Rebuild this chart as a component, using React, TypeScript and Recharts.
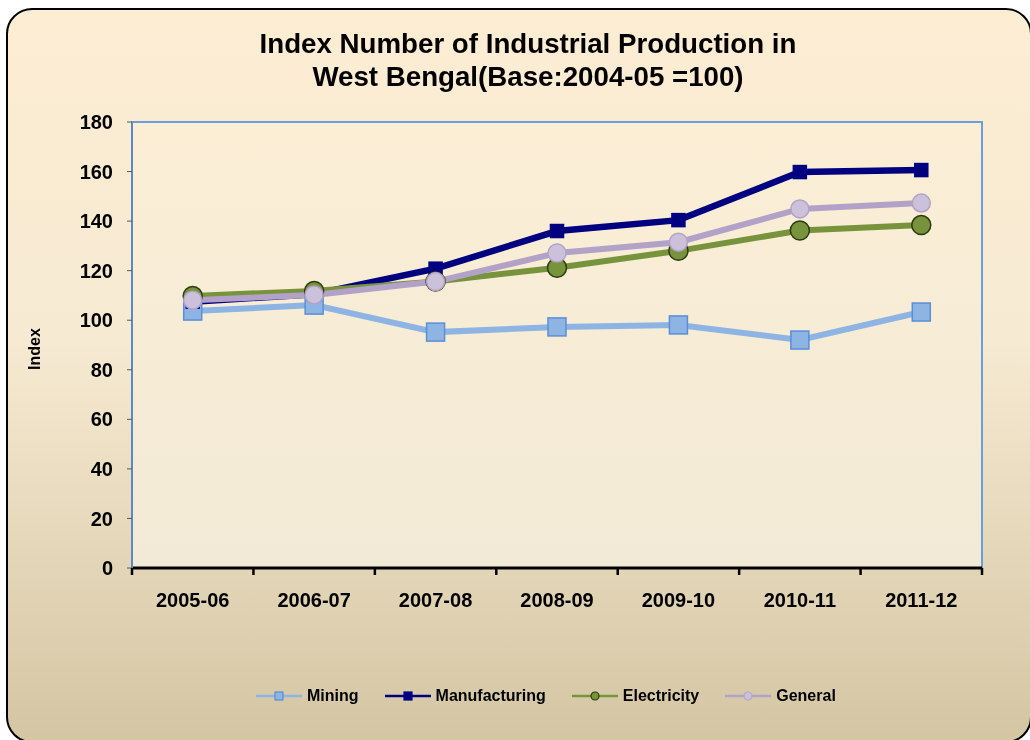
import React from 'react';
import { ComposedChart, Line, XAxis, YAxis, ReferenceArea } from 'recharts';

const CATEGORIES = ['2005-06', '2006-07', '2007-08', '2008-09', '2009-10', '2010-11', '2011-12'];
const MINING = [103.7, 106.1, 95.2, 97.3, 98.1, 92.0, 103.3];
const MANUFACTURING = [107.5, 110.5, 120.8, 136.0, 140.4, 159.8, 160.6];
const ELECTRICITY = [109.8, 111.8, 115.6, 121.2, 128.0, 136.2, 138.4];
const GENERAL = [108.1, 110.2, 115.6, 127.1, 131.5, 144.9, 147.3];
const Y_TICKS = [0, 20, 40, 60, 80, 100, 120, 140, 160, 180];

const data = CATEGORIES.map((c, i) => ({
  year: c,
  mining: MINING[i],
  manufacturing: MANUFACTURING[i],
  electricity: ELECTRICITY[i],
  general: GENERAL[i],
}));

const FONT = '"Liberation Sans", Arial, sans-serif';

const SERIES = [
  { key: 'mining', name: 'Mining', line: '#8DB4E3', width: 6, shape: 'square', size: 18, fill: '#8DB4E3', stroke: '#5B8ED7', legendSize: 8 },
  { key: 'manufacturing', name: 'Manufacturing', line: '#000080', width: 6.5, shape: 'square', size: 13, fill: '#000080', stroke: '#000080', legendSize: 8 },
  { key: 'electricity', name: 'Electricity', line: '#77933C', width: 6, shape: 'circle', size: 19, fill: '#77933C', stroke: '#2D3A10', legendSize: 8 },
  { key: 'general', name: 'General', line: '#B3A2C7', width: 6, shape: 'circle', size: 18, fill: '#CCC1DA', stroke: '#B3A2C7', legendSize: 8 },
];

type S = typeof SERIES[number];

const makeDot = (s: S) => (props: any) => {
  const { cx, cy, index } = props;
  if (cx == null || cy == null) return <g key={index} />;
  if (s.shape === 'square') {
    return (
      <rect key={index} x={cx - s.size / 2} y={cy - s.size / 2} width={s.size} height={s.size}
        fill={s.fill} stroke={s.stroke} strokeWidth={1.5} />
    );
  }
  return <circle key={index} cx={cx} cy={cy} r={s.size / 2} fill={s.fill} stroke={s.stroke} strokeWidth={1.5} />;
};

// Excel-style tick marks between categories
const BoundaryTick = (props: any) => {
  const { x, y, payload, index } = props;
  const half = payload && payload.offset ? payload.offset : 0;
  const last = index === CATEGORIES.length - 1;
  return (
    <g>
      <line x1={x - half} y1={y} x2={x - half} y2={y + 7} stroke="#000" strokeWidth={2.5} />
      {last && <line x1={x + half} y1={y} x2={x + half} y2={y + 7} stroke="#000" strokeWidth={2.5} />}
    </g>
  );
};

const LegendIcon = ({ s }: { s: S }) => (
  <svg width={46} height={12} style={{ display: 'block' }}>
    <line x1={0} y1={6} x2={46} y2={6} stroke={s.line} strokeWidth={2.5} />
    {s.shape === 'square' ? (
      <rect x={23 - s.legendSize / 2} y={6 - s.legendSize / 2} width={s.legendSize} height={s.legendSize}
        fill={s.fill} stroke={s.stroke} strokeWidth={1.2} />
    ) : (
      <circle cx={23} cy={6} r={s.legendSize / 2} fill={s.fill} stroke={s.stroke} strokeWidth={1.2} />
    )}
  </svg>
);

export default function App() {
  return (
    <div style={{ position: 'fixed', left: 0, top: 0, width: 1030, height: 740, overflow: 'hidden', fontFamily: FONT }}>
      {/* card background */}
      <div style={{
        position: 'absolute', left: 6, top: 8, width: 1026, height: 735, boxSizing: 'border-box',
        border: '2px solid #000', borderRadius: 26,
        background: 'linear-gradient(to bottom, #FCEDD3 0%, #F6EAD2 45%, #D4C6A3 100%)',
      }} />
      <div style={{
        position: 'absolute', left: 0, top: 27, width: 1056, textAlign: 'center',
        fontWeight: 'bold', fontSize: 27.7, lineHeight: '33px', color: '#000',
      }}>
        Index Number of Industrial Production in<br />West Bengal(Base:2004-05 =100)
      </div>
      <div style={{ position: 'absolute', left: 0, top: 0 }}>
        <ComposedChart width={1030} height={740} data={data}
          margin={{ top: 122, right: 48, left: 72, bottom: 131 }}>
          <defs>
            <linearGradient id="plotBg" x1="0" y1="0" x2="0" y2="1">
              <stop offset="0%" stopColor="#FBEED5" />
              <stop offset="100%" stopColor="#F2EAD6" />
            </linearGradient>
          </defs>
          <XAxis xAxisId="a_ticks" dataKey="year" scale="band" height={1} interval={0}
            tickSize={0} tickMargin={0} tickLine={false} tick={<BoundaryTick />}
            axisLine={{ stroke: '#000', strokeWidth: 3 }} />
          <XAxis xAxisId="b_cat" dataKey="year" scale="band" height={40} axisLine={false} tickLine={false}
            tickMargin={18} interval={0}
            tick={{ fill: '#000', fontSize: 20, fontWeight: 'bold', fontFamily: FONT }} />
          <YAxis domain={[0, 180]} ticks={Y_TICKS} width={60} interval={0}
            tickSize={5} tickMargin={14}
            tickLine={{ stroke: '#595959' }}
            axisLine={{ stroke: '#5A8AC6', strokeWidth: 2 }}
            tick={{ fill: '#000', fontSize: 20, fontWeight: 'bold', fontFamily: FONT }}
            label={{ value: 'Index', angle: -90, position: 'insideLeft', offset: -38, dy: 25,
              style: { fill: '#000', fontSize: 16, fontWeight: 'bold', fontFamily: FONT } }} />
          <ReferenceArea xAxisId="b_cat" y1={0} y2={180}
            fill="url(#plotBg)" fillOpacity={1} stroke="#6A9FDA" strokeWidth={2} />
          {SERIES.map((s) => (
            <Line key={s.key} xAxisId="b_cat" dataKey={s.key} name={s.name} type="linear"
              stroke={s.line} strokeWidth={s.width} dot={makeDot(s)} activeDot={false}
              isAnimationActive={false} />
          ))}
        </ComposedChart>
      </div>
      {/* legend */}
      <div style={{ position: 'absolute', top: 686, left: 256, display: 'flex', alignItems: 'center', height: 20 }}>
        {SERIES.map((s) => (
          <div key={s.key} style={{ display: 'flex', alignItems: 'center', marginRight: 26 }}>
            <LegendIcon s={s} />
            <span style={{ marginLeft: 5, fontSize: 16, fontWeight: 'bold', color: '#000' }}>{s.name}</span>
          </div>
        ))}
      </div>
    </div>
  );
}
